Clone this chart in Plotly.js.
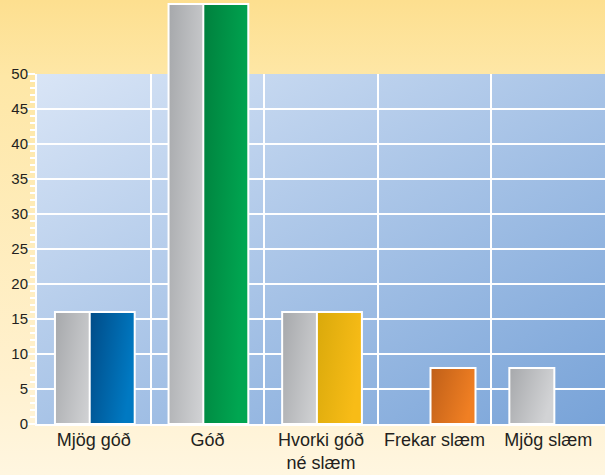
<!DOCTYPE html>
<html>
<head>
<meta charset="utf-8">
<script src="https://cdn.plot.ly/plotly-3.0.1.min.js"></script>
<style>
html,body{margin:0;padding:0;}
body{width:605px;height:475px;background:linear-gradient(180deg,#fddf8f 0%,#fee7a6 16%,#fff1cf 80%,#fff6e0 100%);}
#chart{width:605px;height:475px;}
</style>
</head>
<body>
<div id="chart"></div>
<script>
const categories = ['Mjög góð', 'Góð', 'Hvorki góð<br>né slæm', 'Frekar slæm', 'Mjög slæm'];
const grayValues = [16, 60, 16, null, 8];
const colorValues = [16, 60, 16, 8, null];
const yTickVals = [0, 5, 10, 15, 20, 25, 30, 35, 40, 45, 50];
const yMinorVals = [];
for (let v = 0; v <= 50; v++) if (v % 5) yMinorVals.push(v);

// gradient stops [dark, light] per bar
const grayGrad = ['#a6a8ab', '#d2d3d5'];
const colorGrads = [['#004b87', '#0079c2'], ['#00803d', '#00a651'], ['#d9a90b', '#f8bc17'], ['#bf5f18', '#f07f23'], null];

const bgSvg = '<svg xmlns="http://www.w3.org/2000/svg" width="100" height="100" viewBox="0 0 100 100" preserveAspectRatio="none">' +
  '<defs><linearGradient id="b" x1="0" y1="0" x2="1" y2="1"><stop offset="0" stop-color="#d9e5f6"/><stop offset="1" stop-color="#78a3d8"/></linearGradient></defs>' +
  '<rect width="100" height="100" fill="url(#b)"/></svg>';

const txtColor = '#231f20';
const font = "'Liberation Sans', Arial, sans-serif";

// scale axis: 0..50 occupies the lower part of the plot; bar axis extends above it
const axisMax = 50;
const barAxisMax = 424 / 7;
const gridDomainTop = axisMax / barAxisMax;

const traces = [
  // invisible carrier so the category axis with the grid knows its categories
  {type: 'scatter', mode: 'none', x: categories, y: categories.map(() => 0), xaxis: 'x', yaxis: 'y', hoverinfo: 'skip', showlegend: false},
  {type: 'bar', x: categories, y: grayValues, width: 0.396, offset: -0.342, xaxis: 'x2', yaxis: 'y2',
   marker: {color: '#bcbdc0', line: {color: '#ffffff', width: 2}}, cliponaxis: false, hoverinfo: 'skip'},
  {type: 'bar', x: categories, y: colorValues, width: 0.396, offset: -0.036, xaxis: 'x2', yaxis: 'y2',
   marker: {color: ['#0062a5', '#00933f', '#e8b210', '#d86f1e', '#999'], line: {color: '#ffffff', width: 2}}, cliponaxis: false, hoverinfo: 'skip'}
];

const layout = {
  width: 605, height: 475,
  margin: {l: 37, r: 0, t: 0, b: 51},
  paper_bgcolor: 'rgba(0,0,0,0)',
  plot_bgcolor: 'rgba(0,0,0,0)',
  showlegend: false,
  barmode: 'overlay',
  font: {family: font, color: txtColor},
  images: [{source: 'data:image/svg+xml;utf8,' + encodeURIComponent(bgSvg), xref: 'paper', yref: 'paper',
            x: 0, y: gridDomainTop, sizex: 1, sizey: gridDomainTop, xanchor: 'left', yanchor: 'top', sizing: 'stretch', layer: 'below'}],
  xaxis: {type: 'category', range: [-0.5, 4.5], anchor: 'y', tickson: 'boundaries', showgrid: true, gridcolor: '#ffffff', gridwidth: 2,
          ticks: '', tickangle: 0, ticklabelstandoff: -2, showline: true, linecolor: '#ffffff', linewidth: 2,
          tickfont: {size: 18, color: txtColor}, fixedrange: true},
  yaxis: {domain: [0, gridDomainTop], range: [0, axisMax], anchor: 'x', tickvals: yTickVals, showgrid: true, gridcolor: '#ffffff', gridwidth: 2, zeroline: false,
          showline: true, linecolor: '#ffffff', linewidth: 2, ticks: 'outside', ticklen: 8, tickcolor: '#ffffff', tickwidth: 1.5,
          ticklabelstandoff: -4,
          minor: {tickvals: yMinorVals, ticks: 'outside', ticklen: 5, tickcolor: '#ffffff', tickwidth: 1.5, showgrid: false},
          tickfont: {size: 15, color: txtColor}, fixedrange: true},
  xaxis2: {type: 'category', range: [-0.5, 4.5], anchor: 'y2', visible: false, showgrid: false, fixedrange: true},
  yaxis2: {domain: [0, 1], range: [0, barAxisMax], anchor: 'x2', visible: false, showgrid: false, zeroline: false, fixedrange: true}
};

Plotly.newPlot('chart', traces, layout, {staticPlot: true}).then(function (gd) {
  const svg = gd.querySelector('svg.main-svg');
  const ns = 'http://www.w3.org/2000/svg';
  let defs = svg.querySelector('defs');
  if (!defs) { defs = document.createElementNS(ns, 'defs'); svg.insertBefore(defs, svg.firstChild); }
  function mkGrad(id, stops) {
    const g = document.createElementNS(ns, 'linearGradient');
    g.setAttribute('id', id);
    g.setAttribute('x1', '0'); g.setAttribute('y1', '0'); g.setAttribute('x2', '1'); g.setAttribute('y2', '0.35');
    stops.forEach(function (c, i) {
      const s = document.createElementNS(ns, 'stop');
      s.setAttribute('offset', String(i));
      s.setAttribute('stop-color', c);
      g.appendChild(s);
    });
    defs.appendChild(g);
  }
  mkGrad('gGray', grayGrad);
  colorGrads.forEach(function (c, i) { if (c) mkGrad('gCol' + i, c); });
  const barTraces = gd.querySelectorAll('.barlayer .trace');
  barTraces.forEach(function (tr, ti) {
    tr.querySelectorAll('.point').forEach(function (pt, pi) {
      const p = pt.querySelector('path');
      if (!p) return;
      const idx = pt.__data__ && pt.__data__.i !== undefined ? pt.__data__.i : pi;
      if (ti === 0) p.style.fill = 'url(#gGray)';
      else if (colorGrads[idx]) p.style.fill = 'url(#gCol' + idx + ')';
    });
  });
});
</script>
</body>
</html>
